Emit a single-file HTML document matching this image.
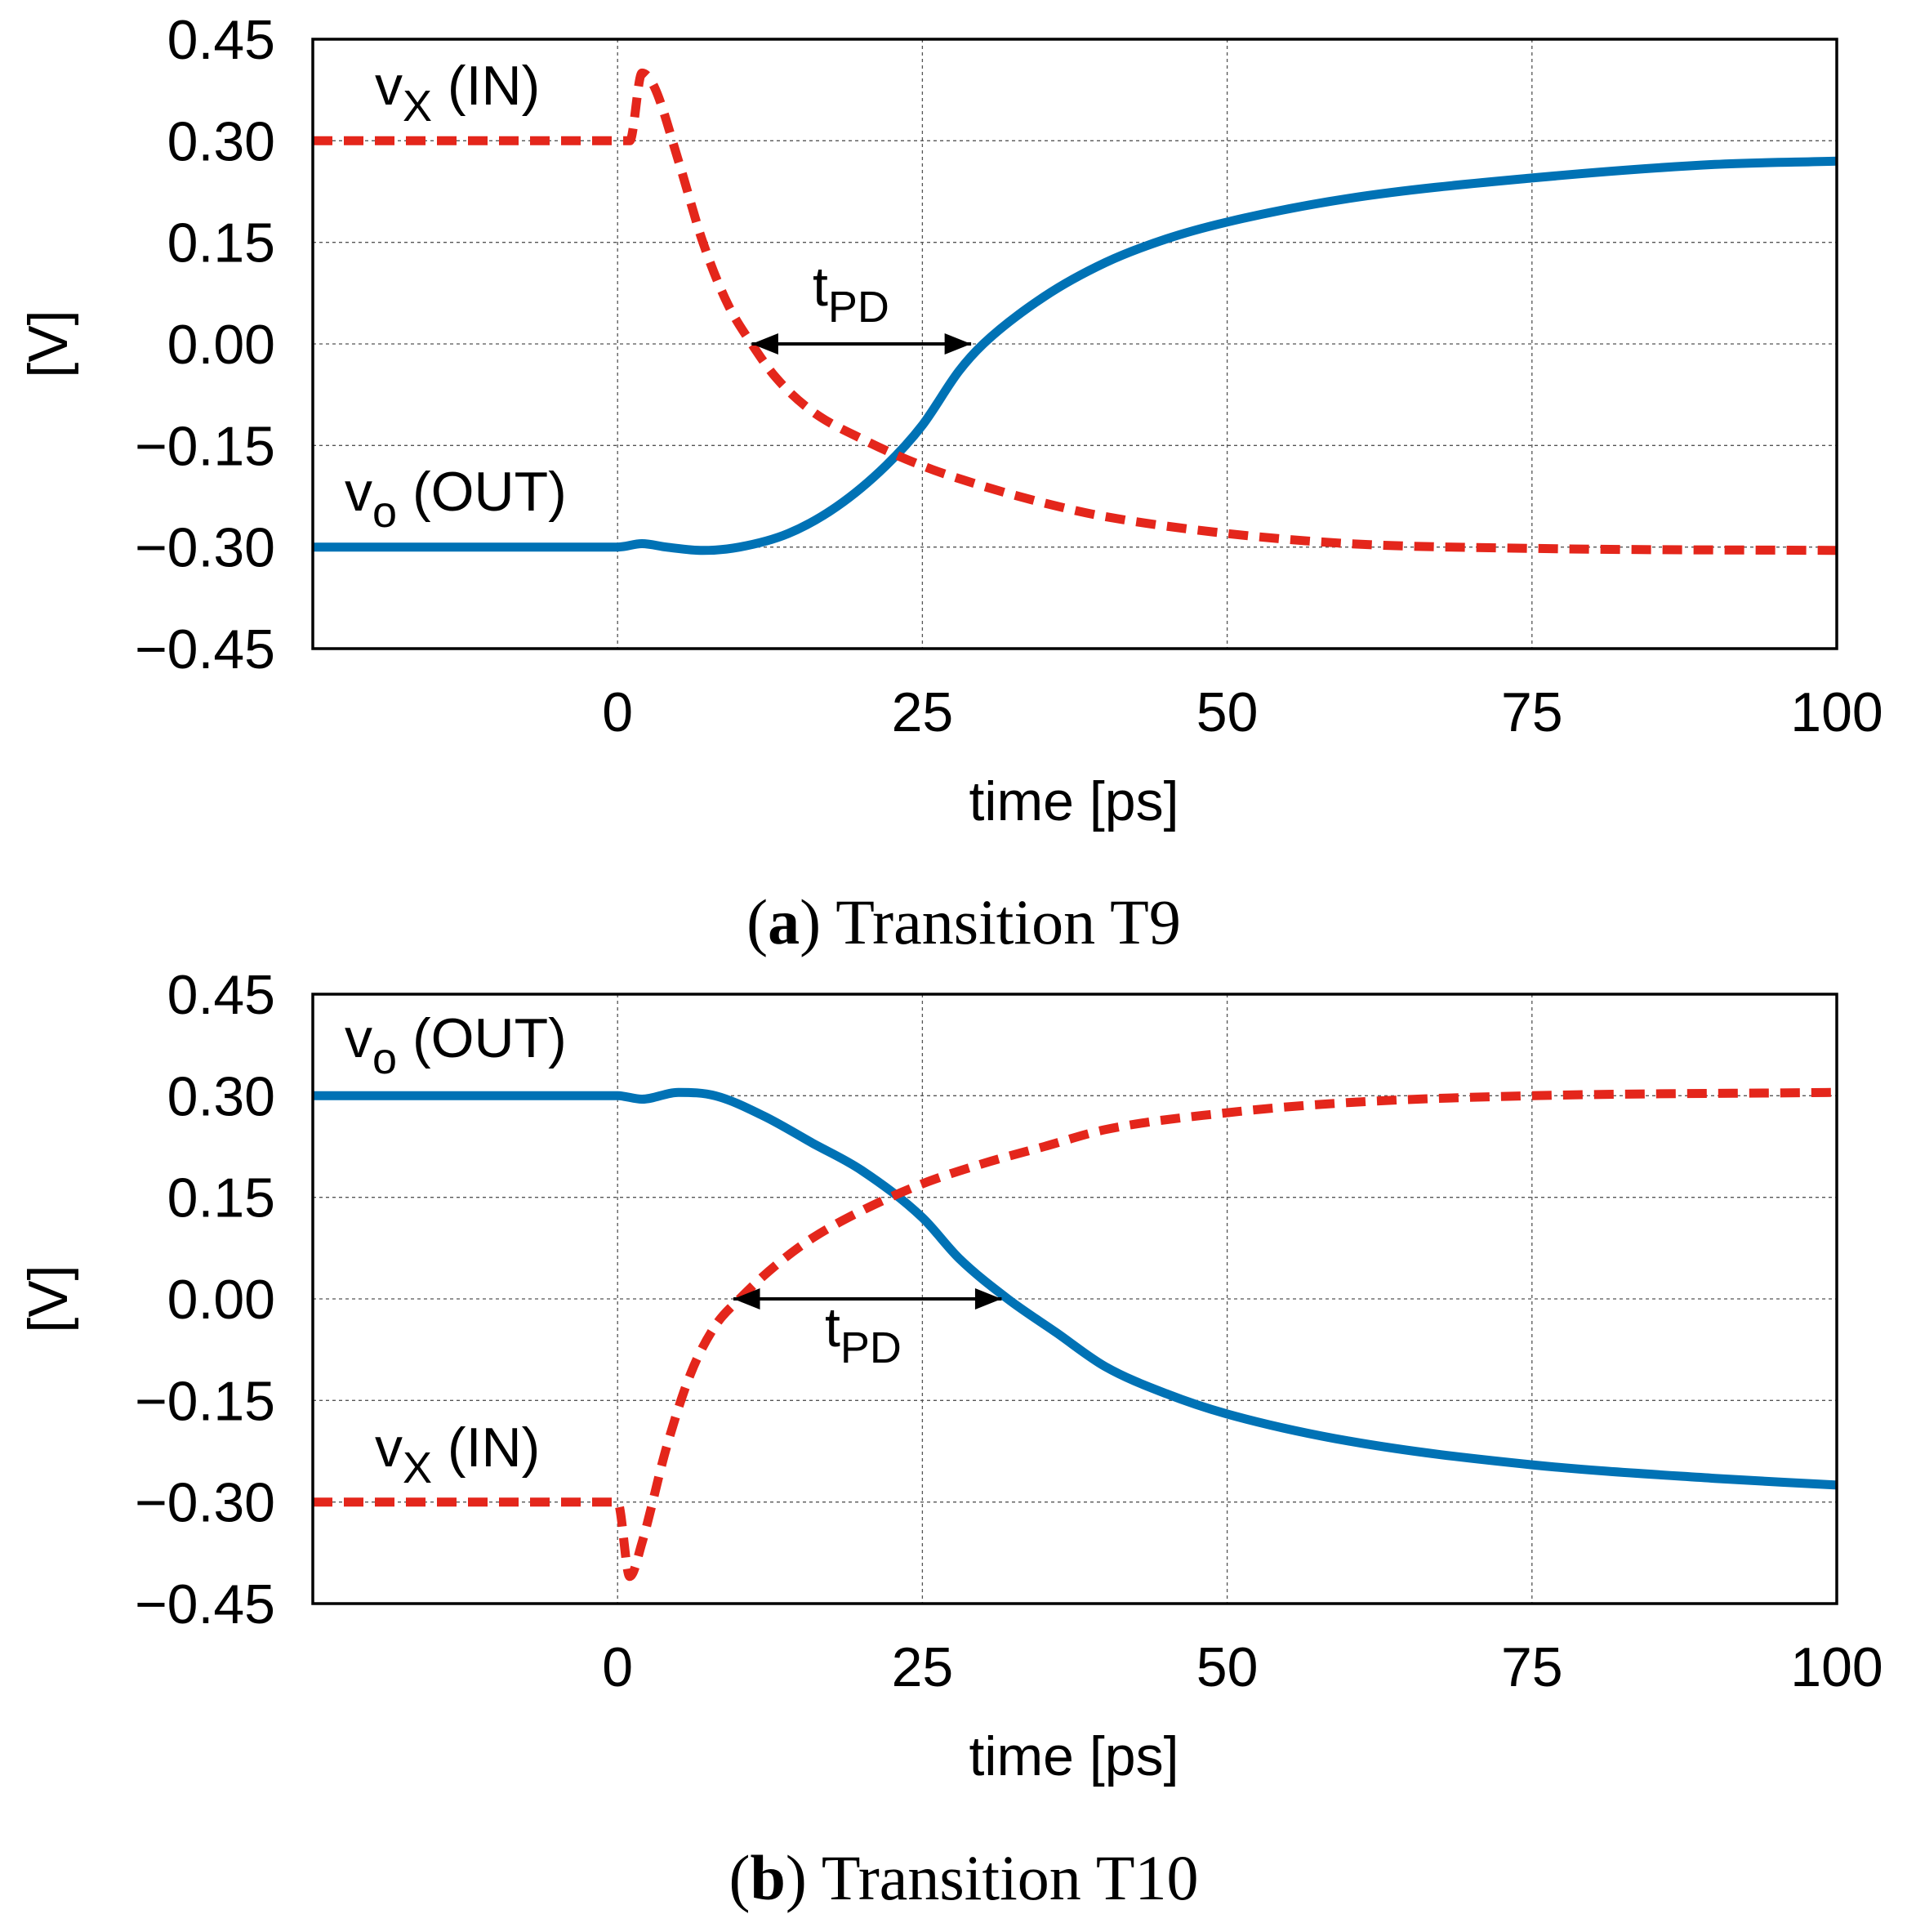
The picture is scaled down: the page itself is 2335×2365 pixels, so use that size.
<!DOCTYPE html>
<html><head><meta charset="utf-8"><style>
body{margin:0;background:#fff}
svg text{font-family:"Liberation Sans",sans-serif;fill:#000}
.cap{font-family:"Liberation Serif",serif}
</style></head><body>
<svg id="fig" width="2335" height="2360" xmlns="http://www.w3.org/2000/svg"></svg>
<script>
const xTicks=[0,25,50,75,100];
const yTicks=[0.45,0.30,0.15,0.00,-0.15,-0.30,-0.45];
const yTickLabels=["0.45","0.30","0.15","0.00","\u22120.15","\u22120.30","\u22120.45"];
const timesA_in=[-25,0,1,2,3,5,7,9,11,13,16,20,25,30,35,40,50,60,75,100];
const valsA_in=[0.30,0.30,0.30,0.40,0.38,0.27,0.15,0.06,0.00,-0.05,-0.10,-0.14,-0.18,-0.21,-0.235,-0.255,-0.28,-0.295,-0.302,-0.305];
const timesA_out=[-25,0,2,4,7,10,14,18,22,25,28,30,35,40,45,50,60,75,90,100];
const valsA_out=[-0.30,-0.30,-0.295,-0.30,-0.305,-0.30,-0.28,-0.24,-0.18,-0.12,-0.04,0.00,0.07,0.12,0.155,0.18,0.215,0.245,0.265,0.27];
const timesB_in=[-25,0,1,2,4,6,8,10,13,16,20,25,30,35,40,50,60,75,100];
const valsB_in=[-0.30,-0.30,-0.41,-0.36,-0.22,-0.11,-0.04,0.00,0.05,0.09,0.13,0.17,0.20,0.225,0.25,0.275,0.29,0.30,0.305];
const timesB_out=[-25,0,2,5,8,12,16,20,25,28,32,36,40,45,50,60,75,90,100];
const valsB_out=[0.30,0.30,0.295,0.305,0.30,0.27,0.23,0.19,0.12,0.06,0.00,-0.05,-0.10,-0.14,-0.17,-0.21,-0.245,-0.265,-0.275];
const tpdA=[11,29], tpdB=[9.5,31.5];

const NS="http://www.w3.org/2000/svg";
const svg=document.getElementById('fig');
function el(tag,attrs,parent){const e=document.createElementNS(NS,tag);for(const k in attrs)e.setAttribute(k,attrs[k]);(parent||svg).appendChild(e);return e;}
svg.innerHTML+='<defs><marker id="ah" markerWidth="44" markerHeight="26" refX="10" refY="4" orient="auto-start-reverse" markerUnits="userSpaceOnUse" viewBox="0 0 10 8"><path d="M0,0 L10,4 L0,8 z" fill="#000"/></marker></defs>';

// monotone cubic (Fritsch-Carlson) in screen space
function smooth(pts){
  const n=pts.length,d=[],m=[];
  for(let i=0;i<n-1;i++)d.push((pts[i+1][1]-pts[i][1])/(pts[i+1][0]-pts[i][0]));
  m[0]=d[0];m[n-1]=d[n-2];
  for(let i=1;i<n-1;i++)m[i]=(d[i-1]*d[i]<=0)?0:(d[i-1]+d[i])/2;
  for(let i=0;i<n-1;i++){if(d[i]===0){m[i]=0;m[i+1]=0;continue;}
    const a=m[i]/d[i],b=m[i+1]/d[i],s=a*a+b*b;if(s>9){const t=3/Math.sqrt(s);m[i]=t*a*d[i];m[i+1]=t*b*d[i];}}
  let s='M'+pts[0][0].toFixed(1)+','+pts[0][1].toFixed(1);
  for(let i=0;i<n-1;i++){const h=(pts[i+1][0]-pts[i][0])/3;
    s+=' C'+(pts[i][0]+h).toFixed(1)+','+(pts[i][1]+m[i]*h).toFixed(1)+' '+(pts[i+1][0]-h).toFixed(1)+','+(pts[i+1][1]-m[i+1]*h).toFixed(1)+' '+pts[i+1][0].toFixed(1)+','+pts[i+1][1].toFixed(1);}
  return s;
}

function panel(p){
  const L=383,R=2249,T=p.top,B=p.bottom;
  const X=t=>L+(t+25)/125*(R-L);
  const Y=v=>T+(0.45-v)/0.9*(B-T);
  const g=el('g',{});
  
  
  xTicks.forEach(t=>{
    const l=el('line',{x1:X(t),x2:X(t),y1:T,y2:B,stroke:'#555','stroke-width':1.3,'stroke-dasharray':'4 4'},g);
    
    const tl=el('text',{x:X(t),y:p.xlabY,'font-size':68,'text-anchor':'middle'},g);tl.textContent=t;
    
  });
  yTicks.forEach((v,i)=>{
    const l=el('line',{x1:L,x2:R,y1:Y(v),y2:Y(v),stroke:'#555','stroke-width':1.3,'stroke-dasharray':'4 4'},g);
    
    const tl=el('text',{x:337,y:Y(v)+24,'font-size':68,'text-anchor':'end'},g);tl.textContent=yTickLabels[i];
    
  });
  const path=(ts,vs)=>smooth(ts.map((t,i)=>[X(t),Y(vs[i])]));
  const o=el('path',{d:path(p.tout,p.vout),fill:'none',stroke:'#0072b5','stroke-width':11,'stroke-linejoin':'round'},g);
  
  const n=el('path',{d:path(p.tin,p.vin),fill:'none',stroke:'#e4261b','stroke-width':11,'stroke-dasharray':'24 14'},g);
  
  const a=el('line',{x1:X(p.tpd[0]),x2:X(p.tpd[1]),y1:Y(0),y2:Y(0),stroke:'#000','stroke-width':4,'marker-start':'url(#ah)','marker-end':'url(#ah)'},g);
  
  const fr=el('rect',{x:L,y:T,width:R-L,height:B-T,fill:'none',stroke:'#000','stroke-width':3.5},g);
  
  const mk=(x,y,main,sub,rest,name)=>{const t=el('text',{x:x,y:y,'font-size':68},g);
    t.innerHTML=main+'<tspan dy="20" font-size="54">'+sub+'</tspan><tspan dy="-20">'+rest+'</tspan>';
    };
  mk(459,p.inY,'v','X',' (IN)','vx-in-label');
  mk(422,p.outY,'v','o',' (OUT)','vo-out-label');
  mk(p.tpdX,p.tpdY,'t','PD','','tpd-label');
  const xl=el('text',{x:1315,y:p.xtitleY,'font-size':68,'text-anchor':'middle'},g);xl.textContent='time [ps]';
  
  const yl=el('text',{x:0,y:0,'font-size':68,'text-anchor':'middle',transform:'translate(82,'+Y(0)+') rotate(-90)'},g);yl.textContent='[V]';
  
  const c=el('text',{x:1180,y:p.capY,'font-size':78,'text-anchor':'middle','class':'cap'},g);
  c.innerHTML='(<tspan font-weight="bold">'+p.letter+'</tspan>) '+p.cap;
  
}
panel({name:'panel-a',top:48,bottom:794,xlabY:895,xtitleY:1004,capY:1155,letter:'a',cap:'Transition T9',
  tin:timesA_in,vin:valsA_in,tout:timesA_out,vout:valsA_out,tpd:tpdA,inY:128,outY:625,tpdX:995,tpdY:374});
panel({name:'panel-b',top:1217,bottom:1963,xlabY:2064,xtitleY:2173,capY:2325,letter:'b',cap:'Transition T10',
  tin:timesB_in,vin:valsB_in,tout:timesB_out,vout:valsB_out,tpd:tpdB,inY:1795,outY:1294,tpdX:1010,tpdY:1648});
</script>
</body></html>
